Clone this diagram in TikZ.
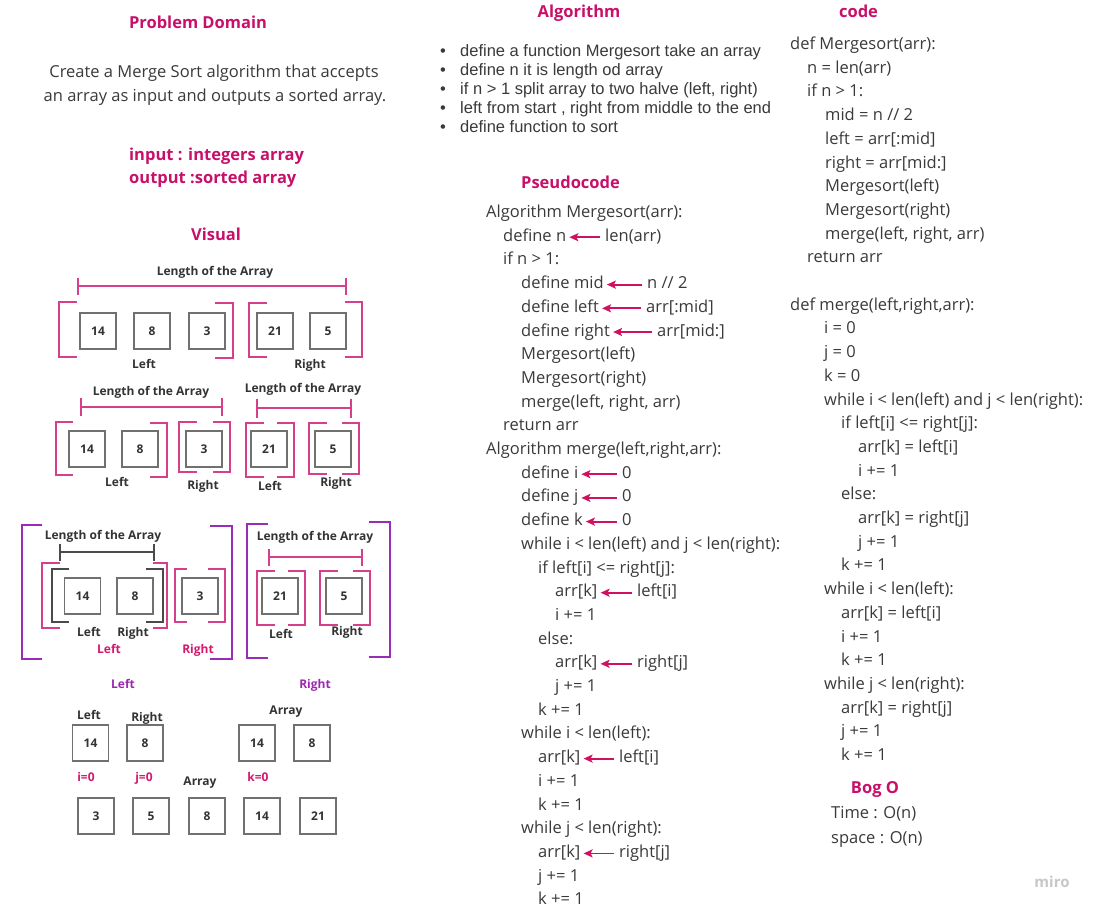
\documentclass[tikz,border=0pt]{standalone}
\usepackage{fontspec}
\setmainfont{Open Sans}
\newfontfamily\arialf{Liberation Sans}
\usetikzlibrary{arrows.meta}
\definecolor{ttlpink}{HTML}{C8106A}
\definecolor{txtgray}{HTML}{3A3A3A}
\definecolor{lblgray}{HTML}{333333}
\definecolor{boxgray}{HTML}{707070}
\definecolor{brpink}{HTML}{D6408A}
\definecolor{brpurple}{HTML}{9A2DB8}
\definecolor{lblpink}{HTML}{D6186E}
\definecolor{lblpurple}{HTML}{9C27B0}
\definecolor{arrpink}{HTML}{D01060}
\definecolor{darkbr}{HTML}{4A4A4A}
\newcommand\fbody{\fontsize{16.5}{20}\selectfont}
\newcommand\flbl{\fontsize{12}{14}\selectfont\bfseries}
\newcommand\brk[5][pinkbr]{\draw[#1] (#3,#4) -- (#2,#4) -- (#2,#5) -- (#3,#5);}
\newcommand\dimline[5][dimp]{\draw[#1] (#2,{#4-#5}) -- (#2,{#4+#5}) (#2,#4) -- (#3,#4) (#3,{#4-#5}) -- (#3,{#4+#5});}
\tikzset{
  code/.style={anchor=west, inner sep=0pt, text height=11pt, text depth=0pt, font=\fbody, text=txtgray},
  bul/.style={anchor=west, inner sep=0pt, text height=11pt, text depth=0pt, font=\arialf\fbody, text=txtgray},
  ttl/.style={inner sep=0pt, text height=12pt, text depth=0pt, font=\fbody\bfseries, text=ttlpink},
  lbl/.style={inner sep=0pt, text height=8.6pt, text depth=0pt, font=\flbl, text=lblgray},
  plbl/.style={lbl, text=lblpink},
  ulbl/.style={lbl, text=lblpurple},
  cell/.style={draw=boxgray, line width=1.4pt, minimum size=36pt, inner sep=0pt, text height=8.6pt, text depth=0pt, font=\flbl, text=lblgray},
  pinkbr/.style={draw=brpink, line width=1.5pt},
  purbr/.style={draw=brpurple, line width=2pt},
  darkbrk/.style={draw=darkbr, line width=1.5pt},
  dimp/.style={draw=brpink, line width=1.3pt},
  dimd/.style={draw=darkbr, line width=1.3pt},
  arr/.style={draw=arrpink, line width=1.8pt, -{Stealth[length=9pt,width=8pt,inset=2pt]}, shorten <=5pt, shorten >=3pt},
}
\begin{document}
\begin{tikzpicture}[x=1pt,y=-1pt]
\path[use as bounding box, fill=white] (0,0) rectangle (1095,913);

% ---------- Problem domain ----------
\node[ttl] (tpd) at (198,22) {Problem Domain};
\node[inner sep=0pt, font=\fbody, text=txtgray, text height=11pt, text depth=0pt] (pd1) at (214,72) {Create a Merge Sort algorithm that accepts};
\node[inner sep=0pt, font=\fbody, text=txtgray, text height=11pt, text depth=0pt] (pd2) at (215,96) {an array as input and outputs a sorted array.};
\node[ttl, anchor=west] (tin) at (129,154) {input : integers array};
\node[ttl, anchor=west] (tout) at (129,177) {output :sorted array};
\node[ttl] (tvis) at (216,234) {Visual};

% ---------- Visual row 1 ----------
\node[lbl] (l1a) at (215,271) {Length of the Array};
\dimline{78}{346}{286}{8.5}
\node[cell] (r1a) at (98,331) {14};
\node[cell] (r1b) at (152,331) {8};
\node[cell] (r1c) at (207,331) {3};
\node[cell] (r1d) at (275,331) {21};
\node[cell] (r1e) at (328,331) {5};
\brk{59}{77}{302}{357}
\brk{233}{215}{303}{358}
\brk{249}{267}{303}{357}
\brk{362}{345}{302}{357}
\node[lbl] (l1l) at (144,364) {Left};
\node[lbl] (l1r) at (310,364) {Right};

% ---------- Visual row 2 ----------
\node[lbl] (l2a) at (151,391) {Length of the Array};
\node[lbl] (l2b) at (303,388) {Length of the Array};
\dimline{81}{222}{407}{9}
\dimline{257}{351}{408}{9.5}
\node[cell] (r2a) at (87,449) {14};
\node[cell] (r2b) at (140,449) {8};
\node[cell] (r2c) at (204,449) {3};
\node[cell] (r2d) at (269,449) {21};
\node[cell] (r2e) at (333,449) {5};
\brk{56}{73}{422}{475}
\brk{167}{150}{423}{477}
\brk{179}{197}{422}{472}
\brk{230}{213}{422}{472}
\brk{246}{264}{423}{477}
\brk{294}{277}{423}{477}
\brk{309}{327}{423}{474}
\brk{359}{342}{423}{474}
\node[lbl] (l2l1) at (117,482) {Left};
\node[lbl] (l2r1) at (203,485) {Right};
\node[lbl] (l2l2) at (270,486) {Left};
\node[lbl] (l2r2) at (336,482) {Right};

% ---------- Visual row 3 ----------
\brk[purbr]{22}{42}{525}{659}
\brk[purbr]{232}{210}{526}{659}
\brk[purbr]{247}{268}{524}{658}
\brk[purbr]{390}{369}{522}{657}
\node[lbl] (l3a) at (103,535) {Length of the Array};
\node[lbl] (l3b) at (315,536) {Length of the Array};
\dimline[dimd]{60}{154}{552}{8.5}
\dimline{269}{362}{557}{8.5}
\node[cell] (r3a) at (82.5,596) {14};
\node[cell] (r3b) at (135,596) {8};
\node[cell] (r3c) at (200,596) {3};
\node[cell] (r3d) at (280,596) {21};
\node[cell] (r3e) at (344,596) {5};
\brk{42}{60}{563}{628}
\brk{167}{153}{563}{628}
\brk[darkbrk]{52}{69}{569}{622}
\brk[darkbrk]{163}{146}{569}{622}
\brk{175}{187}{569}{622}
\brk{225}{208}{569}{622}
\brk{257}{275}{571}{625}
\brk{305}{288}{571}{625}
\brk{320}{338}{571}{625}
\brk{370}{353}{571}{625}
\node[lbl] (l3l1) at (89,632) {Left};
\node[lbl] (l3r1) at (133,632) {Right};
\node[plbl] (l3pl) at (109,649) {Left};
\node[plbl] (l3pr) at (198,649) {Right};
\node[lbl] (l3l2) at (281,634) {Left};
\node[lbl] (l3r2) at (347,631) {Right};
\node[ulbl] (l3ul) at (123,684) {Left};
\node[ulbl] (l3ur) at (315,684) {Right};

% ---------- Visual row 4 / 5 ----------
\node[lbl] (l4l) at (89,715) {Left};
\node[lbl] (l4r) at (147,717) {Right};
\node[lbl] (l4arr) at (286,710) {Array};
\node[cell] (r4a) at (90.5,743) {14};
\node[cell] (r4b) at (145,743) {8};
\node[cell] (r4c) at (257,743) {14};
\node[cell] (r4d) at (312,743) {8};
\node[plbl] (li) at (86,777) {i=0};
\node[plbl] (lj) at (144,777) {j=0};
\node[plbl] (lk) at (258,777) {k=0};
\node[lbl] (l5arr) at (200,781) {Array};
\node[cell] (r5a) at (96,816) {3};
\node[cell] (r5b) at (151,816) {5};
\node[cell] (r5c) at (207,816) {8};
\node[cell] (r5d) at (262,816) {14};
\node[cell] (r5e) at (318,816) {21};

% ---------- Algorithm ----------
\node[ttl] (talg) at (579,11.5) {Algorithm};
\node[bul, anchor=center] (b1d) at (443,51) {•};
\node[bul, anchor=center] (b2d) at (443,70) {•};
\node[bul, anchor=center] (b3d) at (443,89) {•};
\node[bul, anchor=center] (b4d) at (443,108) {•};
\node[bul, anchor=center] (b5d) at (443,127) {•};
\node[bul] (b1) at (460,51) {define a function Mergesort take an array};
\node[bul] (b2) at (460,70) {define n it is length od array};
\node[bul] (b3) at (460,89) {if n > 1 split array to two halve (left, right)};
\node[bul] (b4) at (460,108) {left from start , right from middle to the end};
\node[bul] (b5) at (460,127) {define function to sort};

% ---------- Pseudocode ----------
\node[ttl] (tps) at (570.5,182) {Pseudocode};
\node[code] (ps1) at (486,212.0) {Algorithm Mergesort(arr):};
\node[code] (ps2) at (503,235.7) {define n};
\node[code] (ps3) at (503,259.4) {if n > 1:};
\node[code] (ps4) at (521,283.1) {define mid};
\node[code] (ps5) at (521,306.8) {define left};
\node[code] (ps6) at (521,330.5) {define right};
\node[code] (ps7) at (521,354.2) {Mergesort(left)};
\node[code] (ps8) at (521,377.9) {Mergesort(right)};
\node[code] (ps9) at (521,401.6) {merge(left, right, arr)};
\node[code] (ps10) at (503,425.3) {return arr};
\node[code] (ps11) at (486,449.0) {Algorithm merge(left,right,arr):};
\node[code] (ps12) at (521,472.7) {define i};
\node[code] (ps13) at (521,496.4) {define j};
\node[code] (ps14) at (521,520.1) {define k};
\node[code] (ps15) at (521,543.8) {while i < len(left) and j < len(right):};
\node[code] (ps16) at (538,567.5) {if left[i] <= right[j]:};
\node[code] (ps17) at (555,591.2) {arr[k]};
\node[code] (ps18) at (555,614.9) {i += 1};
\node[code] (ps19) at (538,638.6) {else:};
\node[code] (ps20) at (555,662.3) {arr[k]};
\node[code] (ps21) at (555,686.0) {j += 1};
\node[code] (ps22) at (538,709.7) {k += 1};
\node[code] (ps23) at (521,733.4) {while i < len(left):};
\node[code] (ps24) at (538,757.1) {arr[k]};
\node[code] (ps25) at (538,780.8) {i += 1};
\node[code] (ps26) at (538,804.5) {k += 1};
\node[code] (ps27) at (521,828.2) {while j < len(right):};
\node[code] (ps28) at (538,851.9) {arr[k]};
\node[code] (ps29) at (538,875.6) {j += 1};
\node[code] (ps30) at (538,899.3) {k += 1};
% values
\node[code] (pv2) at (605,235.7) {len(arr)};
\node[code] (pv4) at (647,283.1) {n // 2};
\node[code] (pv5) at (646,306.8) {arr[:mid]};
\node[code] (pv6) at (657,330.5) {arr[mid:]};
\node[code] (pv12) at (622,472.7) {0};
\node[code] (pv13) at (622,496.4) {0};
\node[code] (pv14) at (622,520.1) {0};
\node[code] (pv17) at (637,591.2) {left[i]};
\node[code] (pv20) at (637,662.3) {right[j]};
\node[code] (pv24) at (619,757.1) {left[i]};
\node[code] (pv28) at (619,851.9) {right[j]};
% arrows
\foreach \k in {2,4,5,6,12,13,14,17,20,24,28}{
  \draw[arr] ([yshift=-1.5pt]pv\k.west) -- ([yshift=-1.5pt]ps\k.east);
}

% ---------- code ----------
\node[ttl] (tcode) at (858.5,11.5) {code};
\node[code] (c1) at (790,44.0) {def Mergesort(arr):};
\node[code] (c2) at (807,67.7) {n = len(arr)};
\node[code] (c3) at (807,91.4) {if n > 1:};
\node[code] (c4) at (825,115.1) {mid = n // 2};
\node[code] (c5) at (825,138.8) {left = arr[:mid]};
\node[code] (c6) at (825,162.5) {right = arr[mid:]};
\node[code] (c7) at (825,186.2) {Mergesort(left)};
\node[code] (c8) at (825,209.9) {Mergesort(right)};
\node[code] (c9) at (825,233.6) {merge(left, right, arr)};
\node[code] (c10) at (807,257.3) {return arr};
\node[code] (c12) at (790,304.7) {def merge(left,right,arr):};
\node[code] (c13) at (824,328.4) {i = 0};
\node[code] (c14) at (824,352.1) {j = 0};
\node[code] (c15) at (824,375.8) {k = 0};
\node[code] (c16) at (824,399.5) {while i < len(left) and j < len(right):};
\node[code] (c17) at (841,423.2) {if left[i] <= right[j]:};
\node[code] (c18) at (858,446.9) {arr[k] = left[i]};
\node[code] (c19) at (858,470.6) {i += 1};
\node[code] (c20) at (841,494.3) {else:};
\node[code] (c21) at (858,518.0) {arr[k] = right[j]};
\node[code] (c22) at (858,541.7) {j += 1};
\node[code] (c23) at (841,565.4) {k += 1};
\node[code] (c24) at (824,589.1) {while i < len(left):};
\node[code] (c25) at (841,612.8) {arr[k] = left[i]};
\node[code] (c26) at (841,636.5) {i += 1};
\node[code] (c27) at (841,660.2) {k += 1};
\node[code] (c28) at (824,683.9) {while j < len(right):};
\node[code] (c29) at (841,707.6) {arr[k] = right[j]};
\node[code] (c30) at (841,731.3) {j += 1};
\node[code] (c31) at (841,755.0) {k += 1};

% ---------- Big O ----------
\node[ttl] (tbig) at (875,787) {Bog O};
\node[code] (bt) at (831,813) {Time : O(n)};
\node[code] (bs) at (831,837.5) {space : O(n)};
\node[inner sep=0pt, font=\fontsize{15}{18}\selectfont\bfseries, text=black!22] (miro) at (1052,882) {miro};
\end{tikzpicture}
\end{document}
